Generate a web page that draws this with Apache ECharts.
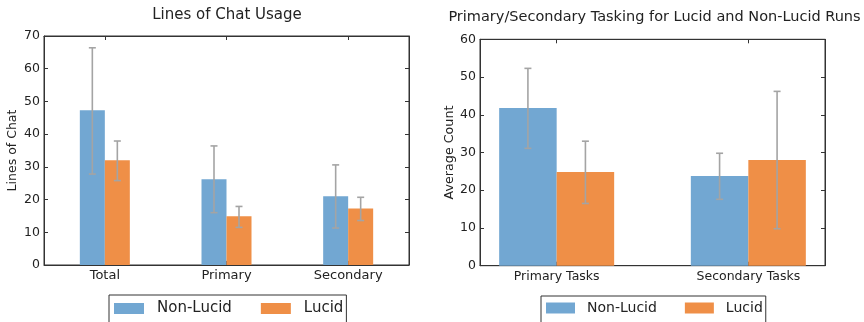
<!DOCTYPE html>
<html>
<head>
<meta charset="utf-8">
<script src="https://cdn.jsdelivr.net/npm/echarts@6/dist/echarts.min.js"></script>
<style>
html,body{margin:0;padding:0;background:#fff;}
#chart{width:864px;height:322px;}
</style>
</head>
<body>
<div id="chart"></div>
<script>
// ---- Left chart: Lines of Chat Usage ----
const chatCategories = ['Total', 'Primary', 'Secondary'];
const chatNonLucid = [47.3, 26.2, 21.0];
const chatLucid = [32.0, 14.9, 17.3];
const chatNonLucidLow = [27.8, 16.0, 11.3];
const chatNonLucidHigh = [66.4, 36.4, 30.6];
const chatLucidLow = [25.8, 11.5, 13.6];
const chatLucidHigh = [37.9, 17.9, 20.7];
const chatYTicks = [0, 10, 20, 30, 40, 50, 60, 70];

// ---- Right chart: Primary/Secondary Tasking ----
const taskCategories = ['Primary Tasks', 'Secondary Tasks'];
const taskPositions = [0, 1];
const taskNonLucid = [41.8, 23.8];
const taskLucid = [24.8, 28.0];
const taskNonLucidLow = [31.1, 17.6];
const taskNonLucidHigh = [52.3, 29.8];
const taskLucidLow = [16.5, 9.8];
const taskLucidHigh = [33.0, 46.2];
const taskYTicks = [0, 10, 20, 30, 40, 50, 60];

const seriesNames = ['Non-Lucid', 'Lucid'];

const FONT = 'DejaVu Sans';
const BLUE = '#72a7d2';
const ORANGE = '#ef8f47';
const AXIS = '#333333';
const ERR = '#a4a4a4';
const TXT = '#222222';

function errItem(pxOffset, unitOffset) {
  return function (params, api) {
    const x = api.value(0);
    const lo = api.value(1), hi = api.value(2);
    const p1 = api.coord([x + unitOffset, lo]);
    const p2 = api.coord([x + unitOffset, hi]);
    const cx = p1[0] + pxOffset;
    const cap = 3.5;
    const st = { stroke: ERR, lineWidth: 1.6 };
    return {
      type: 'group',
      children: [
        { type: 'line', shape: { x1: cx, y1: p1[1], x2: cx, y2: p2[1] }, style: st },
        { type: 'line', shape: { x1: cx - cap, y1: p1[1], x2: cx + cap, y2: p1[1] }, style: st },
        { type: 'line', shape: { x1: cx - cap, y1: p2[1], x2: cx + cap, y2: p2[1] }, style: st }
      ]
    };
  };
}

const chatErrNL = chatCategories.map((c, i) => [i, chatNonLucidLow[i], chatNonLucidHigh[i]]);
const chatErrL = chatCategories.map((c, i) => [i, chatLucidLow[i], chatLucidHigh[i]]);
const taskErrNL = taskPositions.map((p, i) => [p, taskNonLucidLow[i], taskNonLucidHigh[i]]);
const taskErrL = taskPositions.map((p, i) => [p, taskLucidLow[i], taskLucidHigh[i]]);

const axisLine = { show: true, onZero: false, lineStyle: { color: AXIS, width: 1 } };
const tick = { show: true, inside: true, length: 4, lineStyle: { color: AXIS } };
const lbl = { color: TXT, fontFamily: FONT, fontSize: 12.5 };

const chart = echarts.init(document.getElementById('chart'), null, { renderer: 'canvas' });
chart.setOption({
  animation: false,
  backgroundColor: '#ffffff',
  textStyle: { fontFamily: FONT },
  graphic: [
    { type: 'text', x: 227, y: 15, style: { text: 'Lines of Chat Usage', font: '15px "DejaVu Sans"', fill: TXT, textAlign: 'center', textVerticalAlign: 'middle' } },
    { type: 'text', x: 654.5, y: 17, style: { text: 'Primary/Secondary Tasking for Lucid and Non-Lucid Runs', font: '14.5px "DejaVu Sans"', fill: TXT, textAlign: 'center', textVerticalAlign: 'middle' } }
  ],
  grid: [
    { left: 44, right: 455, top: 36, bottom: 57, show: true, borderColor: AXIS, borderWidth: 1, backgroundColor: 'transparent' },
    { left: 480, right: 39, top: 39.3, bottom: 56.3, show: true, borderColor: AXIS, borderWidth: 1, backgroundColor: 'transparent' }
  ],
  legend: [
    {
      data: seriesNames, left: 109, top: 295, orient: 'horizontal',
      icon: 'rect', itemWidth: 30, itemHeight: 11, itemGap: 29,
      borderColor: AXIS, borderWidth: 1, padding: [6, 3, 12, 5],
      textStyle: { fontFamily: FONT, fontSize: 15, color: TXT, padding: [0, 0, 0, 8] },
      selectedMode: false
    },
    {
      data: seriesNames, left: 541, top: 296, orient: 'horizontal',
      icon: 'rect', itemWidth: 29, itemHeight: 11, itemGap: 28,
      borderColor: AXIS, borderWidth: 1, padding: [5, 3, 13, 5],
      textStyle: { fontFamily: FONT, fontSize: 14, color: TXT, padding: [0, 0, 0, 7] },
      selectedMode: false
    }
  ],
  xAxis: [
    {
      type: 'category', gridIndex: 0, data: chatCategories, position: 'bottom',
      axisLine: axisLine, axisTick: Object.assign({ alignWithLabel: true }, tick),
      axisLabel: Object.assign({}, lbl, { margin: 4, fontSize: 13 }), splitLine: { show: false }
    },
    {
      type: 'category', gridIndex: 0, data: chatCategories, position: 'top',
      axisLine: axisLine, axisTick: Object.assign({ alignWithLabel: true }, tick),
      axisLabel: { show: false }, splitLine: { show: false }
    },
    {
      type: 'value', gridIndex: 1, min: -0.4, max: 1.4, position: 'bottom',
      axisLine: axisLine,
      axisTick: Object.assign({ customValues: taskPositions }, tick),
      axisLabel: Object.assign({}, lbl, { margin: 5, fontSize: 12.5, customValues: taskPositions, formatter: v => taskCategories[taskPositions.indexOf(Math.round(v))] || '' }),
      splitLine: { show: false }
    },
    {
      type: 'value', gridIndex: 1, min: -0.4, max: 1.4, position: 'top',
      axisLine: axisLine,
      axisTick: Object.assign({ customValues: taskPositions }, tick),
      axisLabel: { show: false }, splitLine: { show: false }
    }
  ],
  yAxis: [
    {
      type: 'value', gridIndex: 0, min: 0, max: 70, interval: 10, position: 'left',
      name: 'Lines of Chat', nameLocation: 'middle', nameGap: 25,
      nameTextStyle: { fontFamily: FONT, fontSize: 12.5, color: TXT },
      axisLine: axisLine, axisTick: tick, axisLabel: Object.assign({}, lbl, { margin: 4 }), splitLine: { show: false }
    },
    {
      type: 'value', gridIndex: 0, min: 0, max: 70, interval: 10, position: 'right',
      axisLine: axisLine, axisTick: tick, axisLabel: { show: false }, splitLine: { show: false }
    },
    {
      type: 'value', gridIndex: 1, min: 0, max: 60, interval: 10, position: 'left',
      name: 'Average Count', nameLocation: 'middle', nameGap: 23,
      nameTextStyle: { fontFamily: FONT, fontSize: 12.7, color: TXT },
      axisLine: axisLine, axisTick: tick, axisLabel: Object.assign({}, lbl, { margin: 4 }), splitLine: { show: false }
    },
    {
      type: 'value', gridIndex: 1, min: 0, max: 60, interval: 10, position: 'right',
      axisLine: axisLine, axisTick: tick, axisLabel: { show: false }, splitLine: { show: false }
    }
  ],
  series: [
    { name: 'Non-Lucid', type: 'bar', xAxisIndex: 0, yAxisIndex: 0, data: chatNonLucid, barWidth: 25, barGap: '0%', itemStyle: { color: BLUE } },
    { name: 'Lucid', type: 'bar', xAxisIndex: 0, yAxisIndex: 0, data: chatLucid, barWidth: 25, barGap: '0%', itemStyle: { color: ORANGE } },
    { name: 'Non-Lucid', type: 'bar', xAxisIndex: 2, yAxisIndex: 2, data: taskPositions.map((p, i) => [p, taskNonLucid[i]]), barWidth: 57.5, barGap: '0%', itemStyle: { color: BLUE } },
    { name: 'Lucid', type: 'bar', xAxisIndex: 2, yAxisIndex: 2, data: taskPositions.map((p, i) => [p, taskLucid[i]]), barWidth: 57.5, barGap: '0%', itemStyle: { color: ORANGE } },
    { name: 'errChatNL', type: 'custom', xAxisIndex: 0, yAxisIndex: 0, data: chatErrNL, renderItem: errItem(-12.5, 0), z: 5 },
    { name: 'errChatL', type: 'custom', xAxisIndex: 0, yAxisIndex: 0, data: chatErrL, renderItem: errItem(12.5, 0), z: 5 },
    { name: 'errTaskNL', type: 'custom', xAxisIndex: 2, yAxisIndex: 2, data: taskErrNL, renderItem: errItem(0, -0.15), z: 5 },
    { name: 'errTaskL', type: 'custom', xAxisIndex: 2, yAxisIndex: 2, data: taskErrL, renderItem: errItem(0, 0.15), z: 5 }
  ]
});
</script>
</body>
</html>
